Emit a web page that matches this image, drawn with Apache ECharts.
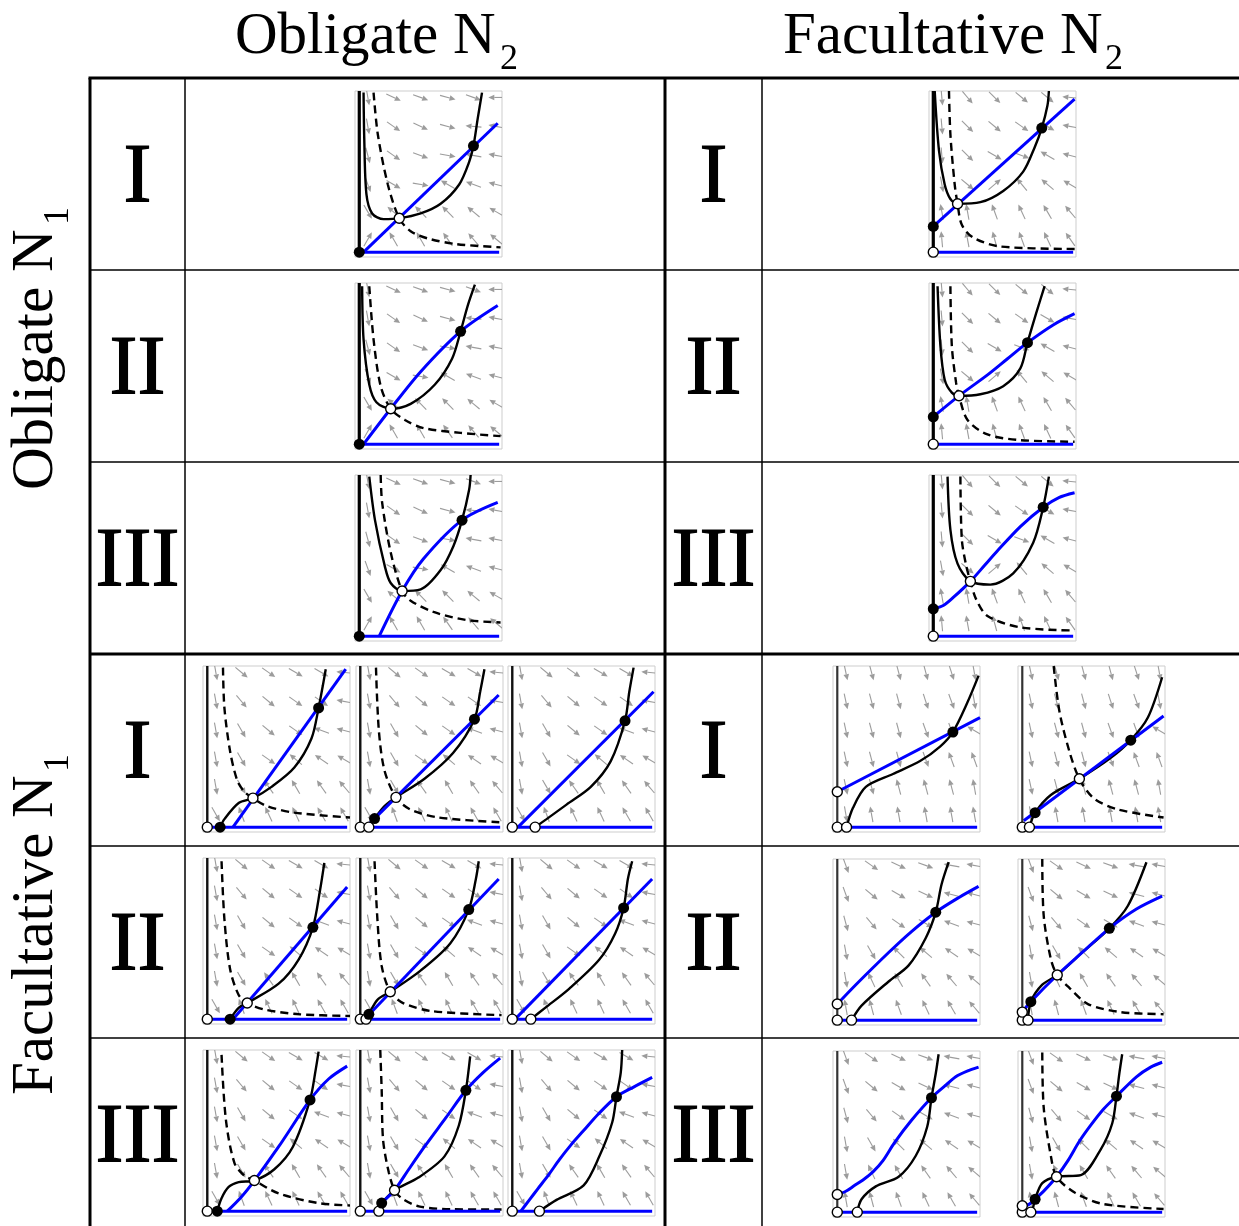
<!DOCTYPE html>
<html>
<head>
<meta charset="utf-8">
<script src="https://cdn.jsdelivr.net/npm/echarts@6/dist/echarts.min.js"></script>
<style>
html, body { margin: 0; padding: 0; background: #fff; }
#chart { width: 1239px; height: 1226px; }
</style>
</head>
<body>
<div id="chart"></div>
<script>
// ---------- phase-plane data (normalised N1 on x, N2 on y) ----------
// Vector-field sample positions and arrow headings (degrees, 0 = right, 90 = up), rows top to bottom
const arrowXs = [0.06, 0.24, 0.43, 0.62, 0.80, 0.96];
const arrowYs = [0.96, 0.78, 0.60, 0.42, 0.25, 0.08];

const fieldOO = [
  [-80, -25, -20, -15, -20, 180],
  [-80, -35, -25, -15, 175, 170],
  [-75, -35, -20, -10, 170, 170],
  [-70, -30, -10, 150, 160, 165],
  [-60, 140, 135, 135, 140, 150],
  [60, 120, 120, 125, 130, 140]
];
const fieldOF = [
  [-85, -50, -45, -40, -40, 175],
  [-85, -45, -40, -35, -30, 170],
  [-85, -45, -30, -20, 150, 165],
  [-80, -40, 40, 130, 140, 150],
  [100, 100, 110, 115, 120, 130],
  [95, 100, 105, 110, 115, 125]
];
const fieldFO = [
  [-80, -40, -35, -30, -30, 175],
  [-80, -50, -40, -35, -35, 170],
  [-80, -60, -40, -35, 160, 165],
  [-80, -60, -35, 140, 145, 150],
  [-80, -60, 125, 120, 125, 130],
  [-60, 110, 115, 115, 120, 120]
];
const fieldFF1 = [
  [-78, -75, -75, -75, -72, -80],
  [-78, -75, -75, -72, -70, -80],
  [-78, -75, -75, -70, -70, 150],
  [-78, -75, -75, -70, 110, 110],
  [-78, -75, 105, 105, 105, 100],
  [-80, 100, 100, 100, 100, 100]
];
const fieldFF2 = [
  [-70, -35, -25, -20, 170, 170],
  [-70, -40, -30, -25, 165, 165],
  [-75, -50, -35, -30, 160, 165],
  [-80, -60, 135, 140, 145, 150],
  [-80, 115, 120, 125, 130, 140],
  [100, 105, 110, 115, 120, 130]
];

// Obligate N1 x Obligate N2
const ooIBlue = [[0.03, 0], [0.97, 0.8]];
const ooISolid = [[0.03, 0.99], [0.035, 0.7], [0.05, 0.36], [0.09, 0.24], [0.17, 0.205], [0.28, 0.21], [0.43, 0.24], [0.57, 0.3], [0.7, 0.42], [0.77, 0.56], [0.8, 0.66], [0.83, 0.83], [0.86, 0.99]];
const ooIDashed = [[0.1, 0.99], [0.13, 0.73], [0.2, 0.42], [0.28, 0.21], [0.36, 0.13], [0.48, 0.085], [0.68, 0.05], [0.99, 0.03]];
const ooIStable = [[0, 0], [0.8, 0.66]];
const ooIUnstable = [[0.28, 0.21]];

const ooIIBlue = [[0.03, 0], [0.22, 0.22], [0.43, 0.45], [0.71, 0.7], [0.97, 0.86]];
const ooIISolid = [[0.02, 0.98], [0.03, 0.65], [0.07, 0.37], [0.12, 0.26], [0.22, 0.22], [0.36, 0.25], [0.53, 0.37], [0.65, 0.53], [0.71, 0.7], [0.76, 0.86], [0.81, 0.99]];
const ooIIDashed = [[0.07, 0.98], [0.1, 0.65], [0.15, 0.36], [0.22, 0.22], [0.32, 0.15], [0.45, 0.1], [0.71, 0.07], [0.99, 0.05]];
const ooIIStable = [[0, 0], [0.71, 0.7]];
const ooIIUnstable = [[0.22, 0.22]];

const ooIIIBlue = [[0.14, 0], [0.3, 0.28], [0.45, 0.48], [0.72, 0.72], [0.97, 0.83]];
const ooIIISolid = [[0.07, 0.99], [0.11, 0.72], [0.18, 0.43], [0.22, 0.33], [0.3, 0.28], [0.43, 0.29], [0.57, 0.41], [0.66, 0.56], [0.72, 0.72], [0.77, 0.91], [0.78, 1.0]];
const ooIIIDashed = [[0.15, 1.0], [0.16, 0.83], [0.22, 0.52], [0.3, 0.28], [0.36, 0.22], [0.52, 0.15], [0.75, 0.1], [0.99, 0.085]];
const ooIIIStable = [[0, 0], [0.72, 0.72]];
const ooIIIUnstable = [[0.3, 0.28]];

// Obligate N1 x Facultative N2
const ofIBlue = [[0, 0.16], [0.99, 0.95]];
const ofISolid = [[0.01, 1.0], [0.04, 0.63], [0.08, 0.42], [0.12, 0.33], [0.17, 0.3], [0.33, 0.31], [0.49, 0.38], [0.63, 0.5], [0.71, 0.65], [0.76, 0.77], [0.8, 0.91], [0.81, 1.0]];
const ofIDashed = [[0.11, 1.0], [0.12, 0.73], [0.15, 0.42], [0.17, 0.3], [0.2, 0.17], [0.28, 0.09], [0.47, 0.035], [1.0, 0.02]];
const ofIStable = [[0, 0.16], [0.76, 0.77]];
const ofIUnstable = [[0, 0], [0.17, 0.3]];

const ofIIBlue = [[0, 0.17], [0.18, 0.3], [0.38, 0.43], [0.52, 0.53], [0.66, 0.63], [0.84, 0.74], [0.99, 0.81]];
const ofIISolid = [[0.03, 0.98], [0.05, 0.61], [0.08, 0.4], [0.13, 0.32], [0.18, 0.3], [0.33, 0.31], [0.49, 0.36], [0.61, 0.47], [0.66, 0.63], [0.72, 0.81], [0.78, 0.98]];
const ofIIDashed = [[0.12, 0.98], [0.13, 0.61], [0.16, 0.38], [0.18, 0.3], [0.24, 0.15], [0.38, 0.06], [0.61, 0.025], [0.99, 0.015]];
const ofIIStable = [[0, 0.17], [0.66, 0.63]];
const ofIIUnstable = [[0, 0], [0.18, 0.3]];

const ofIIIBlue = [[0, 0.17], [0.07, 0.19], [0.14, 0.24], [0.26, 0.34], [0.36, 0.44], [0.45, 0.53], [0.61, 0.68], [0.77, 0.8], [0.88, 0.86], [0.99, 0.89]];
const ofIIISolid = [[0.1, 0.99], [0.12, 0.66], [0.17, 0.45], [0.26, 0.34], [0.4, 0.32], [0.56, 0.39], [0.7, 0.58], [0.77, 0.8], [0.81, 0.99]];
const ofIIIDashed = [[0.19, 0.99], [0.2, 0.6], [0.23, 0.44], [0.26, 0.34], [0.3, 0.23], [0.38, 0.125], [0.61, 0.055], [0.99, 0.035]];
const ofIIIStable = [[0, 0.17], [0.77, 0.8]];
const ofIIIUnstable = [[0, 0], [0.26, 0.34]];

// Facultative N1 x Obligate N2 (three parameter sets per row)
const foI1Blue = [[0.18, 0], [0.97, 0.98]];
const foI1Solid = [[0.09, 0], [0.12, 0.05], [0.22, 0.15], [0.32, 0.18], [0.45, 0.25], [0.61, 0.37], [0.73, 0.55], [0.78, 0.74], [0.81, 0.88], [0.83, 0.98]];
const foI1Dashed = [[0.11, 0.99], [0.12, 0.74], [0.16, 0.47], [0.21, 0.29], [0.26, 0.22], [0.32, 0.18], [0.42, 0.13], [0.61, 0.09], [1.0, 0.06]];
const foI1Stable = [[0.09, 0], [0.78, 0.74]];
const foI1Unstable = [[0, 0], [0.32, 0.18]];

const foI2Blue = [[0.04, 0], [0.97, 0.82]];
const foI2Solid = [[0.06, 0], [0.1, 0.053], [0.17, 0.13], [0.25, 0.185], [0.45, 0.3], [0.65, 0.46], [0.8, 0.67], [0.84, 0.84], [0.87, 0.98]];
const foI2Dashed = [[0.11, 0.99], [0.13, 0.6], [0.17, 0.35], [0.25, 0.185], [0.35, 0.11], [0.55, 0.06], [0.99, 0.03]];
const foI2Stable = [[0.1, 0.053], [0.8, 0.67]];
const foI2Unstable = [[0, 0], [0.06, 0], [0.25, 0.185]];

const foI3Blue = [[0.04, 0], [0.99, 0.84]];
const foI3Solid = [[0.16, 0], [0.24, 0.05], [0.38, 0.14], [0.55, 0.25], [0.69, 0.41], [0.79, 0.66], [0.82, 0.84], [0.85, 0.99]];
const foI3Stable = [[0.79, 0.66]];
const foI3Unstable = [[0, 0], [0.16, 0]];

const foII1Blue = [[0.18, 0], [0.98, 0.82]];
const foII1Solid = [[0.16, 0], [0.22, 0.07], [0.28, 0.1], [0.5, 0.22], [0.64, 0.37], [0.74, 0.57], [0.79, 0.8], [0.82, 0.97]];
const foII1Dashed = [[0.1, 0.98], [0.12, 0.62], [0.16, 0.31], [0.22, 0.15], [0.28, 0.1], [0.4, 0.06], [0.65, 0.03], [1.0, 0.02]];
const foII1Stable = [[0.16, 0], [0.74, 0.57]];
const foII1Unstable = [[0, 0], [0.28, 0.1]];

const foII2Blue = [[0.03, 0], [0.97, 0.87]];
const foII2Solid = [[0.04, 0], [0.06, 0.03], [0.12, 0.12], [0.21, 0.17], [0.42, 0.3], [0.63, 0.47], [0.76, 0.68], [0.81, 0.87], [0.83, 0.98]];
const foII2Dashed = [[0.1, 0.98], [0.12, 0.62], [0.15, 0.33], [0.21, 0.17], [0.3, 0.1], [0.5, 0.05], [0.99, 0.025]];
const foII2Stable = [[0.06, 0.03], [0.76, 0.68]];
const foII2Unstable = [[0, 0], [0.04, 0], [0.21, 0.17]];

const foII3Blue = [[0.02, 0], [0.98, 0.87]];
const foII3Solid = [[0.13, 0], [0.23, 0.07], [0.4, 0.19], [0.61, 0.37], [0.72, 0.53], [0.78, 0.69], [0.81, 0.87], [0.84, 0.98]];
const foII3Stable = [[0.78, 0.69]];
const foII3Unstable = [[0, 0], [0.13, 0]];

const foIII1Blue = [[0.14, 0], [0.24, 0.09], [0.33, 0.19], [0.5, 0.4], [0.72, 0.69], [0.85, 0.82], [0.98, 0.9]];
const foIII1Solid = [[0.07, 0], [0.1, 0.08], [0.15, 0.15], [0.22, 0.18], [0.33, 0.19], [0.47, 0.26], [0.6, 0.4], [0.72, 0.69], [0.76, 0.88], [0.78, 0.99]];
const foIII1Dashed = [[0.1, 0.97], [0.13, 0.57], [0.19, 0.3], [0.26, 0.22], [0.33, 0.19], [0.5, 0.11], [0.78, 0.05], [1.0, 0.035]];
const foIII1Stable = [[0.07, 0], [0.72, 0.69]];
const foIII1Unstable = [[0, 0], [0.33, 0.19]];

const foIII2Blue = [[0.12, 0], [0.15, 0.05], [0.24, 0.13], [0.34, 0.26], [0.45, 0.4], [0.6, 0.58], [0.74, 0.75], [0.86, 0.86], [0.98, 0.95]];
const foIII2Solid = [[0.13, 0], [0.15, 0.05], [0.17, 0.07], [0.24, 0.13], [0.41, 0.21], [0.59, 0.34], [0.69, 0.53], [0.74, 0.75], [0.77, 0.96]];
const foIII2Dashed = [[0.14, 1.0], [0.15, 0.75], [0.16, 0.44], [0.2, 0.24], [0.24, 0.13], [0.29, 0.08], [0.41, 0.03], [0.64, 0.012], [0.99, 0.01]];
const foIII2Stable = [[0.15, 0.05], [0.74, 0.75]];
const foIII2Unstable = [[0, 0], [0.13, 0], [0.24, 0.13]];

const foIII3Blue = [[0.06, 0], [0.12, 0.07], [0.18, 0.14], [0.25, 0.22], [0.33, 0.32], [0.41, 0.41], [0.5, 0.5], [0.6, 0.6], [0.73, 0.71], [0.85, 0.77], [0.98, 0.83]];
const foIII3Solid = [[0.19, 0], [0.31, 0.07], [0.5, 0.16], [0.61, 0.34], [0.7, 0.55], [0.73, 0.71], [0.76, 0.86], [0.77, 1.0]];
const foIII3Stable = [[0.73, 0.71]];
const foIII3Unstable = [[0, 0], [0.19, 0]];

// Facultative N1 x Facultative N2 (two parameter sets per row)
const ffI1Blue = [[0, 0.22], [1.0, 0.68]];
const ffI1Solid = [[0.065, 0], [0.11, 0.12], [0.2, 0.25], [0.39, 0.33], [0.58, 0.41], [0.72, 0.5], [0.81, 0.59], [0.91, 0.77], [0.99, 0.94]];
const ffI1Stable = [[0.81, 0.59]];
const ffI1Unstable = [[0, 0], [0, 0.22], [0.065, 0]];

const ffI2Blue = [[0.01, 0.04], [0.99, 0.69]];
const ffI2Solid = [[0.05, 0], [0.09, 0.09], [0.2, 0.2], [0.4, 0.3], [0.62, 0.43], [0.76, 0.54], [0.88, 0.68], [0.98, 0.93]];
const ffI2Dashed = [[0.22, 1.0], [0.26, 0.72], [0.33, 0.47], [0.4, 0.3], [0.5, 0.18], [0.67, 0.11], [0.99, 0.06]];
const ffI2Stable = [[0.09, 0.09], [0.76, 0.54]];
const ffI2Unstable = [[0, 0], [0.05, 0], [0.4, 0.3]];

const ffII1Blue = [[0, 0.1], [0.13, 0.22], [0.36, 0.42], [0.52, 0.55], [0.69, 0.67], [0.85, 0.76], [0.99, 0.83]];
const ffII1Solid = [[0.1, 0], [0.17, 0.09], [0.36, 0.24], [0.5, 0.34], [0.62, 0.51], [0.69, 0.67], [0.73, 0.84], [0.78, 0.98]];
const ffII1Stable = [[0.69, 0.67]];
const ffII1Unstable = [[0, 0], [0, 0.1], [0.1, 0]];

const ffII2Blue = [[0, 0.05], [0.06, 0.115], [0.245, 0.28], [0.42, 0.42], [0.61, 0.57], [0.8, 0.69], [0.98, 0.77]];
const ffII2Solid = [[0.04, 0], [0.06, 0.115], [0.14, 0.22], [0.245, 0.28], [0.42, 0.42], [0.61, 0.57], [0.74, 0.71], [0.87, 0.98]];
const ffII2Dashed = [[0.14, 1.0], [0.15, 0.65], [0.2, 0.38], [0.245, 0.28], [0.33, 0.2], [0.46, 0.1], [0.69, 0.05], [0.99, 0.037]];
const ffII2Stable = [[0.06, 0.115], [0.61, 0.57]];
const ffII2Unstable = [[0, 0], [0, 0.05], [0.04, 0], [0.245, 0.28]];

const ffIII1Blue = [[0, 0.11], [0.06, 0.13], [0.12, 0.165], [0.18, 0.2], [0.25, 0.25], [0.32, 0.32], [0.4, 0.43], [0.52, 0.57], [0.66, 0.71], [0.75, 0.78], [0.83, 0.84], [0.91, 0.875], [0.99, 0.9]];
const ffIII1Solid = [[0.14, 0], [0.17, 0.08], [0.27, 0.16], [0.43, 0.22], [0.55, 0.35], [0.63, 0.53], [0.66, 0.71], [0.69, 0.86], [0.71, 0.98]];
const ffIII1Stable = [[0.66, 0.71]];
const ffIII1Unstable = [[0, 0], [0, 0.11], [0.14, 0]];

const ffIII2Blue = [[0, 0.03], [0.05, 0.05], [0.09, 0.08], [0.16, 0.14], [0.24, 0.22], [0.32, 0.32], [0.4, 0.44], [0.48, 0.54], [0.57, 0.64], [0.66, 0.72], [0.8, 0.84], [0.9, 0.9], [0.98, 0.93]];
const ffIII2Solid = [[0.07, 0], [0.09, 0.08], [0.14, 0.18], [0.24, 0.22], [0.41, 0.23], [0.55, 0.39], [0.63, 0.55], [0.66, 0.72], [0.68, 0.86], [0.7, 0.98]];
const ffIII2Dashed = [[0.14, 0.99], [0.15, 0.65], [0.2, 0.35], [0.24, 0.22], [0.37, 0.12], [0.57, 0.05], [0.99, 0.02]];
const ffIII2Stable = [[0.09, 0.08], [0.66, 0.72]];
const ffIII2Unstable = [[0, 0], [0, 0.04], [0.06, 0], [0.24, 0.22]];

// Table text
const columnTitles = ['Obligate N', 'Facultative N'];
const rowTitles = ['Obligate N', 'Facultative N'];
const typeLabels = ['I', 'II', 'III'];

// ---------- layout ----------
const BOX_W = 147, BOX_H = 166;
const panels = [
  { at: [355, 91], blue: ooIBlue, solid: ooISolid, dashed: ooIDashed, stable: ooIStable, unstable: ooIUnstable, field: fieldOO, axis: 'heavy' },
  { at: [355, 283], blue: ooIIBlue, solid: ooIISolid, dashed: ooIIDashed, stable: ooIIStable, unstable: ooIIUnstable, field: fieldOO, axis: 'heavy' },
  { at: [355, 475], blue: ooIIIBlue, solid: ooIIISolid, dashed: ooIIIDashed, stable: ooIIIStable, unstable: ooIIIUnstable, field: fieldOO, axis: 'heavy' },
  { at: [929, 91], blue: ofIBlue, solid: ofISolid, dashed: ofIDashed, stable: ofIStable, unstable: ofIUnstable, field: fieldOF, axis: 'heavy' },
  { at: [929, 283], blue: ofIIBlue, solid: ofIISolid, dashed: ofIIDashed, stable: ofIIStable, unstable: ofIIUnstable, field: fieldOF, axis: 'heavy' },
  { at: [929, 475], blue: ofIIIBlue, solid: ofIIISolid, dashed: ofIIIDashed, stable: ofIIIStable, unstable: ofIIIUnstable, field: fieldOF, axis: 'heavy' },
  { at: [203, 666], blue: foI1Blue, solid: foI1Solid, dashed: foI1Dashed, stable: foI1Stable, unstable: foI1Unstable, field: fieldFO, axis: 'mid' },
  { at: [356, 666], blue: foI2Blue, solid: foI2Solid, dashed: foI2Dashed, stable: foI2Stable, unstable: foI2Unstable, field: fieldFO, axis: 'mid' },
  { at: [508, 666], blue: foI3Blue, solid: foI3Solid, dashed: null, stable: foI3Stable, unstable: foI3Unstable, field: fieldFO, axis: 'mid' },
  { at: [203, 858], blue: foII1Blue, solid: foII1Solid, dashed: foII1Dashed, stable: foII1Stable, unstable: foII1Unstable, field: fieldFO, axis: 'mid' },
  { at: [356, 858], blue: foII2Blue, solid: foII2Solid, dashed: foII2Dashed, stable: foII2Stable, unstable: foII2Unstable, field: fieldFO, axis: 'mid' },
  { at: [508, 858], blue: foII3Blue, solid: foII3Solid, dashed: null, stable: foII3Stable, unstable: foII3Unstable, field: fieldFO, axis: 'mid' },
  { at: [203, 1050], blue: foIII1Blue, solid: foIII1Solid, dashed: foIII1Dashed, stable: foIII1Stable, unstable: foIII1Unstable, field: fieldFO, axis: 'mid' },
  { at: [356, 1050], blue: foIII2Blue, solid: foIII2Solid, dashed: foIII2Dashed, stable: foIII2Stable, unstable: foIII2Unstable, field: fieldFO, axis: 'mid' },
  { at: [508, 1050], blue: foIII3Blue, solid: foIII3Solid, dashed: null, stable: foIII3Stable, unstable: foIII3Unstable, field: fieldFO, axis: 'mid' },
  { at: [833, 666], blue: ffI1Blue, solid: ffI1Solid, dashed: null, stable: ffI1Stable, unstable: ffI1Unstable, field: fieldFF1, axis: 'light' },
  { at: [1018, 666], blue: ffI2Blue, solid: ffI2Solid, dashed: ffI2Dashed, stable: ffI2Stable, unstable: ffI2Unstable, field: fieldFF1, axis: 'light' },
  { at: [833, 859], blue: ffII1Blue, solid: ffII1Solid, dashed: null, stable: ffII1Stable, unstable: ffII1Unstable, field: fieldFF2, axis: 'light' },
  { at: [1018, 859], blue: ffII2Blue, solid: ffII2Solid, dashed: ffII2Dashed, stable: ffII2Stable, unstable: ffII2Unstable, field: fieldFF2, axis: 'light' },
  { at: [833, 1051], blue: ffIII1Blue, solid: ffIII1Solid, dashed: null, stable: ffIII1Stable, unstable: ffIII1Unstable, field: fieldFF2, axis: 'light' },
  { at: [1018, 1051], blue: ffIII2Blue, solid: ffIII2Solid, dashed: ffIII2Dashed, stable: ffIII2Stable, unstable: ffIII2Unstable, field: fieldFF2, axis: 'light' }
];

const axisStyles = {
  heavy: { color: '#000', width: 3.2 },
  mid: { color: '#111', width: 2.4 },
  light: { color: '#333', width: 2.2 }
};

const ARROW_COLOR = '#9c9c9c';

function fieldData(angles) {
  const out = [];
  arrowYs.forEach((y, r) => arrowXs.forEach((x, c) => out.push([x, y, angles[r][c]])));
  return out;
}

function renderArrow(params, api) {
  const p = api.coord([api.value(0), api.value(1)]);
  const a = api.value(2) * Math.PI / 180;
  const L = 16, headLen = 6, headHalf = 2.8;
  const ux = Math.cos(a), uy = -Math.sin(a);
  const x1 = p[0] - ux * L / 2, y1 = p[1] - uy * L / 2;
  const x2 = p[0] + ux * L / 2, y2 = p[1] + uy * L / 2;
  const bx = x2 - ux * headLen, by = y2 - uy * headLen;
  const nx = -uy, ny = ux;
  return {
    type: 'group',
    children: [
      { type: 'line', shape: { x1: x1, y1: y1, x2: bx, y2: by }, style: { stroke: ARROW_COLOR, lineWidth: 1.1 } },
      { type: 'polygon', shape: { points: [[x2, y2], [bx + nx * headHalf, by + ny * headHalf], [bx - nx * headHalf, by - ny * headHalf]] }, style: { fill: ARROW_COLOR } }
    ]
  };
}

const grids = [], xAxes = [], yAxes = [], series = [];

panels.forEach((p, i) => {
  grids.push({ left: p.at[0], top: p.at[1], width: BOX_W, height: BOX_H, show: true, borderColor: '#cdcdcd', borderWidth: 1, backgroundColor: '#fff' });
  xAxes.push({ type: 'value', gridIndex: i, min: -0.03, max: 1, show: false });
  yAxes.push({ type: 'value', gridIndex: i, min: -0.03, max: 1, show: false });
  const ax = { xAxisIndex: i, yAxisIndex: i, silent: true };

  series.push(Object.assign({ type: 'custom', renderItem: renderArrow, data: fieldData(p.field), clip: true, z: 1, encode: { x: 0, y: 1 } }, ax));

  if (p.dashed) {
    series.push(Object.assign({ type: 'line', data: p.dashed, symbol: 'none', smooth: 0.3, lineStyle: { color: '#000', width: 2.4, type: [8, 5] }, z: 3 }, ax));
  }
  series.push(Object.assign({ type: 'line', data: p.solid, symbol: 'none', smooth: 0.3, lineStyle: { color: '#000', width: 2.4 }, z: 3 }, ax));
  series.push(Object.assign({ type: 'line', data: p.blue, symbol: 'none', smooth: 0.3, lineStyle: { color: '#0000ff', width: 3 }, z: 4 }, ax));
  // N2 = 0 is always an invariant line for N2, N1 = 0 for N1
  series.push(Object.assign({ type: 'line', data: [[0, 0], [0.98, 0]], symbol: 'none', lineStyle: { color: '#0000ff', width: 3 }, z: 4 }, ax));
  const st = axisStyles[p.axis];
  series.push(Object.assign({ type: 'line', data: [[0, 0], [0, 1]], symbol: 'none', lineStyle: { color: st.color, width: st.width }, z: 5 }, ax));

  series.push(Object.assign({ type: 'scatter', data: p.unstable, symbol: 'circle', symbolSize: 10, clip: false, itemStyle: { color: '#fff', borderColor: '#000', borderWidth: 1.4, opacity: 1 }, z: 6 }, ax));
  series.push(Object.assign({ type: 'scatter', data: p.stable, symbol: 'circle', symbolSize: 11, clip: false, itemStyle: { color: '#000', opacity: 1 }, z: 7 }, ax));
});

// ---------- table frame and labels ----------
const SERIF = '"Liberation Serif", "DejaVu Serif", serif';
const graphics = [];
function hLine(y, x1, x2, w) {
  graphics.push({ type: 'line', shape: { x1: x1, y1: y, x2: x2, y2: y }, style: { stroke: '#000', lineWidth: w }, z: 10 });
}
function vLine(x, y1, y2, w) {
  graphics.push({ type: 'line', shape: { x1: x, y1: y1, x2: x, y2: y2 }, style: { stroke: '#000', lineWidth: w }, z: 10 });
}
hLine(78, 88.5, 1239, 3);
hLine(270, 90, 1239, 1.5);
hLine(462, 90, 1239, 1.5);
hLine(654, 90, 1239, 3);
hLine(846, 90, 1239, 1.5);
hLine(1038, 90, 1239, 1.5);
vLine(90, 78, 1226, 3);
vLine(185, 78, 1226, 1.5);
vLine(665, 78, 1226, 3);
vLine(762, 78, 1226, 1.5);

const rowCenters = [174, 366, 558, 750, 942, 1134];
const labelColumns = [137.5, 713.5];
rowCenters.forEach((cy, r) => {
  labelColumns.forEach(cx => {
    graphics.push({ type: 'text', x: cx, y: cy + 6, style: { text: typeLabels[r % 3], font: '84px ' + SERIF, fill: '#000', stroke: '#000', lineWidth: 1.2, align: 'center', verticalAlign: 'middle' }, z: 11 });
  });
});

// column headers with subscript 2
const headerLeft = [235, 783];
columnTitles.forEach((t, k) => {
  graphics.push({ type: 'text', x: headerLeft[k], y: 37, style: { text: t, font: '59px ' + SERIF, fill: '#000', align: 'left', verticalAlign: 'middle' }, z: 11 });
});
graphics.push({ type: 'text', x: 500, y: 60, style: { text: '2', font: '36px ' + SERIF, fill: '#000', align: 'left', verticalAlign: 'middle' }, z: 11 });
graphics.push({ type: 'text', x: 1105, y: 60, style: { text: '2', font: '36px ' + SERIF, fill: '#000', align: 'left', verticalAlign: 'middle' }, z: 11 });

// row headers, written bottom-to-top, with subscript 1
const rowLabelStart = [490, 1095];
const rowLabelLen = [262, 320];
rowTitles.forEach((t, k) => {
  graphics.push({ type: 'text', x: 36, y: rowLabelStart[k], rotation: Math.PI / 2, style: { text: t, font: '59px ' + SERIF, fill: '#000', align: 'left', verticalAlign: 'middle' }, z: 11 });
  graphics.push({ type: 'text', x: 59, y: rowLabelStart[k] - rowLabelLen[k] - 3, rotation: Math.PI / 2, style: { text: '1', font: '36px ' + SERIF, fill: '#000', align: 'left', verticalAlign: 'middle' }, z: 11 });
});

const chart = echarts.init(document.getElementById('chart'), null, { renderer: 'canvas' });
chart.setOption({
  animation: false,
  backgroundColor: '#fff',
  grid: grids,
  xAxis: xAxes,
  yAxis: yAxes,
  series: series,
  graphic: graphics
});
</script>
</body>
</html>
